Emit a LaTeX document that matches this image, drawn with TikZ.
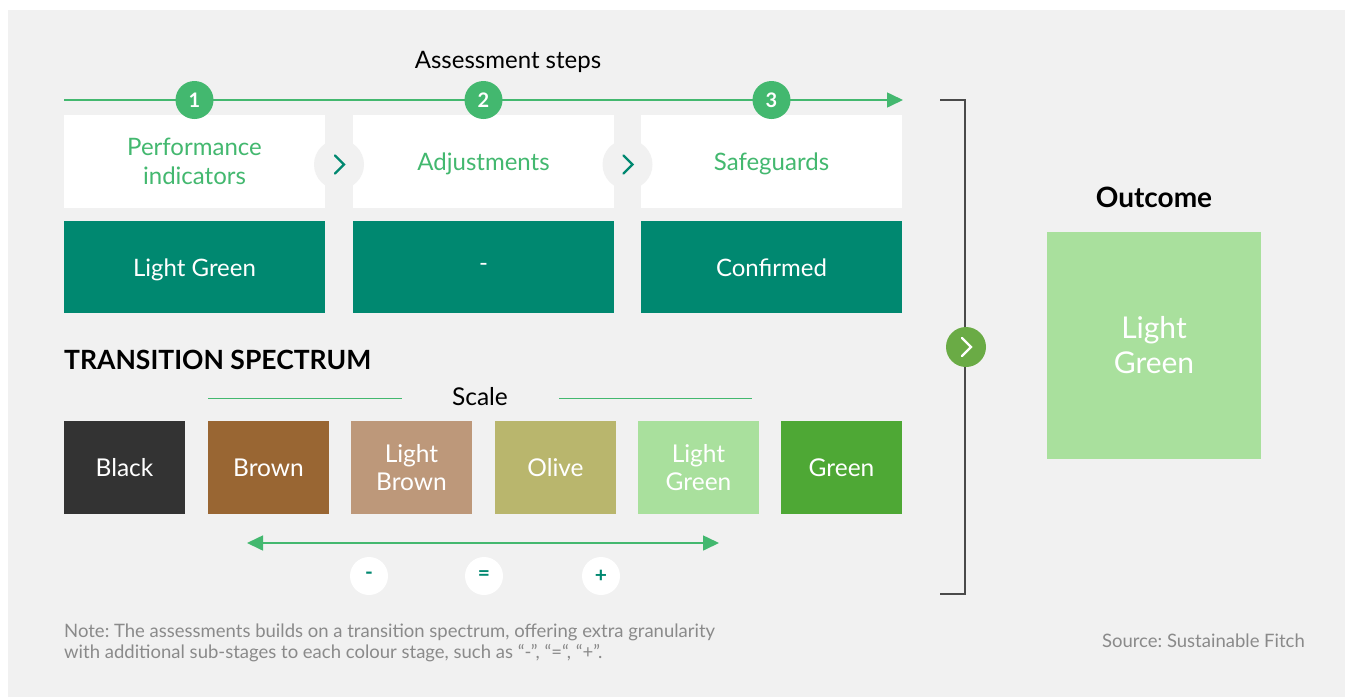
\documentclass[tikz,border=0pt]{standalone}
\usepackage{fontspec}
\setmainfont{Lato}
\usetikzlibrary{calc,arrows.meta,positioning}
\frenchspacing

\definecolor{panelgray}{HTML}{F1F1F1}
\definecolor{stepgreen}{HTML}{43B86F}
\definecolor{fitchteal}{HTML}{008870}
\definecolor{bracketgray}{HTML}{4A4A4A}
\definecolor{outgreen}{HTML}{6AAB45}
\definecolor{notegray}{HTML}{8A8A8A}
\definecolor{cBlack}{HTML}{333333}
\definecolor{cBrown}{HTML}{996633}
\definecolor{cLightBrown}{HTML}{BD987A}
\definecolor{cOlive}{HTML}{B9B66D}
\definecolor{cLightGreen}{HTML}{A9E09D}
\definecolor{cGreen}{HTML}{4EA835}

\tikzset{
	stepbox/.style={fill=white, text=stepgreen, minimum width=261pt, minimum height=93pt,
		inner sep=0pt, text depth=0pt, align=center, font=\fontsize{24}{29}\selectfont},
	resultbox/.style={fill=fitchteal, text=white, minimum width=261pt, minimum height=92pt,
		inner sep=0pt, text depth=0pt, align=center, font=\fontsize{24}{29}\selectfont},
	numdot/.style={circle, fill=stepgreen, text=white, minimum size=38pt, inner sep=0pt,
		font=\bfseries\fontsize{20}{20}\selectfont},
	nextdot/.style={circle, fill=panelgray, minimum size=50pt, inner sep=0pt},
	specbox/.style={text=white, minimum width=121pt, minimum height=93pt, inner sep=0pt,
		text depth=0pt, align=center, font=\fontsize{24.5}{28}\selectfont},
	signdot/.style={circle, fill=white, text=fitchteal, minimum size=38pt, inner sep=0pt,
		font=\bfseries\fontsize{21}{21}\selectfont},
	chevron/.style={line width=2.4pt, line cap=round, line join=miter},
	notetext/.style={inner sep=0pt, text=notegray, font=\fontsize{18.5}{21}\selectfont},
}

\begin{document}
\begin{tikzpicture}[x=1pt,y=-1pt,>={Triangle[length=16pt,width=15pt]}]

	\useasboundingbox (0,0) rectangle (1345,697);
	% panel behind everything
	\fill[panelgray] (8,10) rectangle (1345,697);

	% title and timeline of the steps
	\node[font=\fontsize{24}{24}\selectfont] (title) at (508,62) {Assessment steps};
	\coordinate (T0) at (64,100);
	\coordinate (T1) at (903,100);
	\draw[stepgreen, line width=1.6pt, ->] (T0) -- (T1);

	% the three steps
	\node[stepbox] (P) at (194.5,161.5) {Performance\\indicators};
	\node[stepbox] (A) at (483.5,161.5) {Adjustments};
	\node[stepbox] (S) at (771.5,161.5) {Safeguards};

	\node[numdot] (n1) at (P.north |- T0) {1};
	\node[numdot] (n2) at (A.north |- T0) {2};
	\node[numdot] (n3) at (S.north |- T0) {3};

	% their results
	\node[resultbox, below=13pt of P] (rP) {Light Green};
	\node[resultbox, below=13pt of A] (rA) {-};
	\node[resultbox, below=13pt of S] (rS) {Confirmed};

	% chevrons between the steps
	\node[nextdot] (c1) at ($(P.east)!.5!(A.west)+(0,3)$) {};
	\node[nextdot] (c2) at ($(A.east)!.5!(S.west)+(0,3)$) {};
	\draw[chevron, fitchteal] (c1) ++(-4,-9) -- ++(9,9) -- ++(-9,9);
	\draw[chevron, fitchteal] (c2) ++(-4,-9) -- ++(9,9) -- ++(-9,9);

	% bracket towards the outcome
	\coordinate (B0) at (940,100);
	\coordinate (B1) at (965,100);
	\coordinate (B2) at (965,594);
	\coordinate (B3) at (940,594);
	\draw[bracketgray, line width=1.8pt] (B0) -- (B1) -- (B2) -- (B3);
	\node[circle, fill=outgreen, minimum size=40pt, inner sep=0pt] (go) at (966,347) {};
	\draw[chevron, white] (go) ++(-4,-9) -- ++(9,9) -- ++(-9,9);

	% outcome
	\node[font=\bfseries\fontsize{28}{28}\selectfont] (outtitle) at (1154,197) {Outcome};
	\node[fill=cLightGreen, text=white, minimum width=214pt, minimum height=227pt, inner sep=0pt,
		align=center, font=\fontsize{30}{35}\selectfont] (outbox) at (1154,345.5) {Light\\Green};

	% transition spectrum
	\node[anchor=base west, inner sep=0pt, font=\bfseries\fontsize{26.5}{26.5}\selectfont]
		(spec) at (64,369) {TRANSITION SPECTRUM};
	\node[font=\fontsize{24.5}{24.5}\selectfont] (scale) at (480,397) {Scale};
	\coordinate (L0) at (208,398);
	\coordinate (L1) at (402,398);
	\coordinate (L2) at (559,398);
	\coordinate (L3) at (752,398);
	\draw[stepgreen, line width=1pt] (L0) -- (L1) (L2) -- (L3);

	\node[specbox, fill=cBlack] (s1) at (124.5,467.5) {Black};
	\node[specbox, fill=cBrown] (s2) at (268.5,467.5) {Brown};
	\node[specbox, fill=cLightBrown] (s3) at (411.5,467.5) {Light\\Brown};
	\node[specbox, fill=cOlive] (s4) at (555.5,467.5) {Olive};
	\node[specbox, fill=cLightGreen] (s5) at (698.5,467.5) {Light\\Green};
	\node[specbox, fill=cGreen] (s6) at (841.5,467.5) {Green};

	% sub-stages
	\coordinate (D0) at (247,543);
	\coordinate (D1) at (719,543);
	\draw[stepgreen, line width=1.6pt, <->] (D0) -- (D1);
	\node[signdot] (minus) at (369,576) {-};
	\node[signdot] (equal) at (484,576) {=};
	\node[signdot] (plus) at (601,576) {+};

	% note and source
	\node[notetext, anchor=base west] (note1) at (64,637)
		{Note: The assessments builds on a transition spectrum, offering extra granularity};
	\node[notetext, anchor=base west] (note2) at (64,658)
		{with additional sub-stages to each colour stage, such as “-”, “=“, “+”.};
	\node[notetext, anchor=base east] (source) at (1305,647) {Source: Sustainable Fitch};

\end{tikzpicture}
\end{document}
